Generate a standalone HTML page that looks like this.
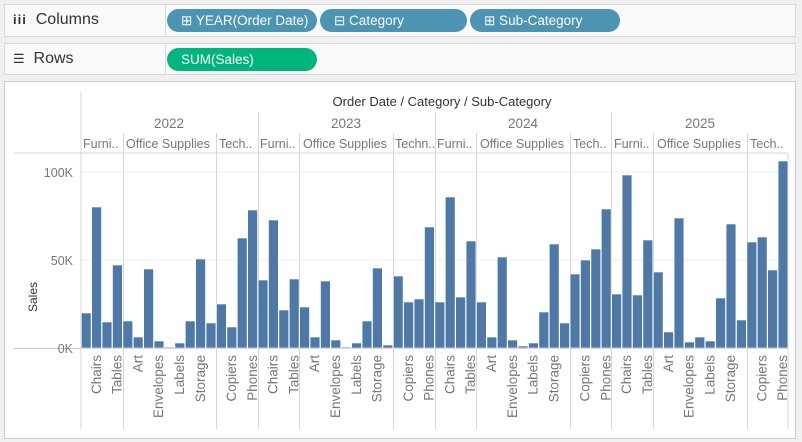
<!DOCTYPE html>
<html><head><meta charset="utf-8"><style>
body{margin:0;width:802px;height:442px;background:#f0f0f0;font-family:"Liberation Sans",sans-serif;overflow:hidden;position:relative}
.shelf{position:absolute;left:4px;width:792px;background:#fafafa;border:1px solid #d8d8d8;box-sizing:border-box}
.lab{position:absolute;left:0;top:0;width:161px;height:100%;border-right:1px solid #d8d8d8;font-size:16px;color:#333;line-height:30px;padding-left:8px;box-sizing:border-box}
.pill{position:absolute;height:23px;border-radius:12px;color:#fff;font-size:13.5px;line-height:23px;box-sizing:border-box;padding-left:14px}
.b{background:#4b94b2}.g{background:#00b47e}
</style></head><body>
<div class="shelf" style="top:4px;height:33px"><div class="lab"><b style="font-weight:bold;letter-spacing:1px;font-size:13px">iii</b>&nbsp; Columns</div></div>
<div class="shelf" style="top:43px;height:32px"><div class="lab"><span style="font-size:13px">☰</span>&nbsp; Rows</div></div>
<div class="pill b" style="left:167px;top:9px;width:150px">⊞ YEAR(Order Date)</div>
<div class="pill b" style="left:320px;top:9px;width:147px">⊟ Category</div>
<div class="pill b" style="left:470px;top:9px;width:150px">⊞ Sub-Category</div>
<div class="pill g" style="left:167px;top:48px;width:150px">SUM(Sales)</div>
<div class="shelf" style="top:81px;height:358px;background:#fff;border:1px solid #ccc"></div>
<svg style="position:absolute;left:0;top:0" width="802" height="442" font-family="Liberation Sans, sans-serif">
<g stroke="#d6d6d6" stroke-width="1">
<line x1="81" y1="92" x2="81" y2="429"/>
<line x1="14" y1="153" x2="788" y2="153"/>
<line x1="81" y1="172" x2="788" y2="172" stroke="#eeeeee"/>
<line x1="81" y1="260" x2="788" y2="260" stroke="#eeeeee"/>
<line x1="14" y1="348.5" x2="788" y2="348.5" stroke="#c8c8c8"/>
<line x1="788" y1="153" x2="788" y2="429"/>
</g>
<g id="seps" stroke="#d6d6d6"></g>
<g id="bars" fill="#4e79a7" stroke="#fff" stroke-width="0.6"></g>
<text x="442" y="106" font-size="13" text-anchor="middle" fill="#333">Order Date / Category / Sub-Category</text>
<g font-size="13.5" fill="#777" text-anchor="middle">
<text x="169" y="128">2022</text><text x="346" y="128">2023</text><text x="523" y="128">2024</text><text x="700" y="128">2025</text>
</g>
<g font-size="12.5" fill="#777">
<text x="83" y="148">Furni..</text><text x="126" y="148">Office Supplies</text><text x="219" y="148">Tech..</text>
<text x="260" y="148">Furni..</text><text x="303" y="148">Office Supplies</text><text x="395" y="148">Techn..</text>
<text x="437" y="148">Furni..</text><text x="480" y="148">Office Supplies</text><text x="573" y="148">Tech..</text>
<text x="614" y="148">Furni..</text><text x="657" y="148">Office Supplies</text><text x="750" y="148">Tech..</text>
</g>
<g font-size="12.5" fill="#777" text-anchor="end">
<text x="73" y="177">100K</text><text x="73" y="265">50K</text><text x="73" y="353">0K</text>
</g>
<text transform="translate(37,297) rotate(-90)" font-size="12" fill="#333" text-anchor="middle">Sales</text>
<g font-size="13.5" fill="#777" text-anchor="end">
<g transform="translate(0,0)">
<text transform="translate(100.8,355) rotate(-90)">Chairs</text><text transform="translate(121.6,355) rotate(-90)">Tables</text><text transform="translate(142.4,355) rotate(-90)">Art</text><text transform="translate(163.2,355) rotate(-90)">Envelopes</text><text transform="translate(184,355) rotate(-90)">Labels</text><text transform="translate(204.8,355) rotate(-90)">Storage</text><text transform="translate(236,355) rotate(-90)">Copiers</text><text transform="translate(256.8,355) rotate(-90)">Phones</text></g>
<g transform="translate(176.8,0)">
<text transform="translate(100.8,355) rotate(-90)">Chairs</text><text transform="translate(121.6,355) rotate(-90)">Tables</text><text transform="translate(142.4,355) rotate(-90)">Art</text><text transform="translate(163.2,355) rotate(-90)">Envelopes</text><text transform="translate(184,355) rotate(-90)">Labels</text><text transform="translate(204.8,355) rotate(-90)">Storage</text><text transform="translate(236,355) rotate(-90)">Copiers</text><text transform="translate(256.8,355) rotate(-90)">Phones</text></g>
<g transform="translate(353.6,0)">
<text transform="translate(100.8,355) rotate(-90)">Chairs</text><text transform="translate(121.6,355) rotate(-90)">Tables</text><text transform="translate(142.4,355) rotate(-90)">Art</text><text transform="translate(163.2,355) rotate(-90)">Envelopes</text><text transform="translate(184,355) rotate(-90)">Labels</text><text transform="translate(204.8,355) rotate(-90)">Storage</text><text transform="translate(236,355) rotate(-90)">Copiers</text><text transform="translate(256.8,355) rotate(-90)">Phones</text></g>
<g transform="translate(530.4,0)">
<text transform="translate(100.8,355) rotate(-90)">Chairs</text><text transform="translate(121.6,355) rotate(-90)">Tables</text><text transform="translate(142.4,355) rotate(-90)">Art</text><text transform="translate(163.2,355) rotate(-90)">Envelopes</text><text transform="translate(184,355) rotate(-90)">Labels</text><text transform="translate(204.8,355) rotate(-90)">Storage</text><text transform="translate(236,355) rotate(-90)">Copiers</text><text transform="translate(256.8,355) rotate(-90)">Phones</text></g>
</g>
</svg>
<script>
var h=[35,141,26,83,27,11,79,7,1,5,27,89,25,44,21,110,138,
68,128,38,69,41,11,67,8,1,5,27,80,3,72,46,49,121,
46,151,51,107,46,11,91,8,2,5,36,104,25,74,88,99,139,
54,173,53,108,76,16,130,6,11,7,50,124,28,106,111,78,187];
var NS="http://www.w3.org/2000/svg",bars=document.getElementById("bars"),seps=document.getElementById("seps");
h.forEach(function(v,i){var r=document.createElementNS(NS,"rect");r.setAttribute("x",81.3+10.4*i);r.setAttribute("width",9.8);r.setAttribute("y",348-v);r.setAttribute("height",v);bars.appendChild(r);});
for(var y=0;y<4;y++){var o=81+176.8*y;
[[4,133],[13,133],[17,112]].forEach(function(p){if(y==3&&p[0]==17)return;var l=document.createElementNS(NS,"line");var x=Math.round(o+10.4*p[0])+0.5;l.setAttribute("x1",x);l.setAttribute("x2",x);l.setAttribute("y1",p[1]);l.setAttribute("y2",429);seps.appendChild(l);});}
</script>
</body></html>
